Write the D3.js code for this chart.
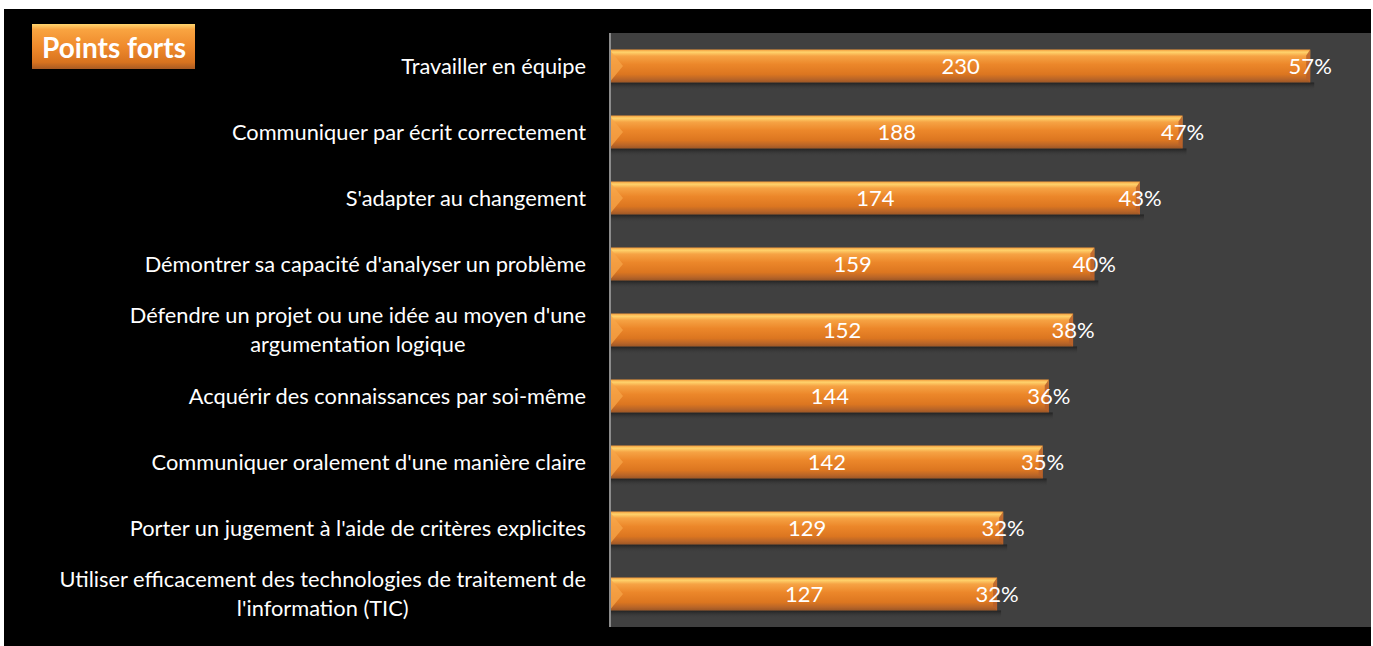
<!DOCTYPE html>
<html>
<head>
  <meta charset="utf-8">
  <title>Points forts</title>
  <script src="https://d3js.org/d3.v7.min.js"></script>
  <style>
    body { margin: 0; background: #fff; font-family: Lato, "Open Sans", sans-serif; }
    svg { display: block; }
  </style>
</head>
<body>
  <svg width="1373" height="646"></svg>
  <script>
    // Chart data
    var categories = [
      "Travailler en équipe",
      "Communiquer par écrit correctement",
      "S'adapter au changement",
      "Démontrer sa capacité d'analyser un problème",
      "Défendre un projet ou une idée au moyen d'une|argumentation logique",
      "Acquérir des connaissances par soi-même",
      "Communiquer oralement d'une manière claire ",
      "Porter un jugement à l'aide de critères explicites",
      "Utiliser efficacement des technologies de traitement de|l'information (TIC)"
    ];
    var counts = [230, 188, 174, 159, 152, 144, 142, 129, 127];
    var percents = [57, 47, 43, 40, 38, 36, 35, 32, 32];
    var title = "Points forts";

    var data = categories.map(function(c, i) {
      return {cat: c, n: counts[i], pct: percents[i]};
    });

    var svg = d3.select("svg");
    var plot = {left: 611, right: 1371, top: 33, bottom: 627};

    var x = d3.scaleLinear().domain([0, 250]).range([plot.left, plot.right]);
    var y = d3.scaleBand().domain(categories).range([plot.top, plot.bottom])
        .paddingInner(0.5).paddingOuter(0.25);

    // gradients
    var defs = svg.append("defs");
    var g1 = defs.append("linearGradient").attr("id", "barGrad")
        .attr("x1", 0).attr("y1", 0).attr("x2", 0).attr("y2", 1);
    [[0, "#f39a3a"], [0.08, "#ffd36c"], [0.2, "#f6a344"], [0.45, "#ec872a"],
     [0.75, "#dc7620"], [0.9, "#b96528"], [1, "#9c5625"]].forEach(function(s) {
      g1.append("stop").attr("offset", s[0]).attr("stop-color", s[1]);
    });
    var g2 = defs.append("linearGradient").attr("id", "shadowGrad")
        .attr("x1", 0).attr("y1", 0).attr("x2", 0).attr("y2", 1);
    g2.append("stop").attr("offset", 0).attr("stop-color", "#1e1e1e").attr("stop-opacity", 0.9);
    g2.append("stop").attr("offset", 1).attr("stop-color", "#404040").attr("stop-opacity", 0);

    // background
    svg.append("rect").attr("x", 4).attr("y", 9).attr("width", 1367).attr("height", 637)
        .attr("fill", "#000");
    svg.append("rect").attr("x", plot.left).attr("y", plot.top)
        .attr("width", plot.right - plot.left).attr("height", plot.bottom - plot.top)
        .attr("fill", "#404040");

    // bars
    var bars = svg.selectAll(".bar").data(data).enter().append("g").attr("class", "bar");
    var bh = y.bandwidth();

    bars.append("rect")
        .attr("x", x(0))
        .attr("y", function(d) { return y(d.cat) + bh; })
        .attr("width", function(d) { return x(d.n) - x(0) + 4; })
        .attr("height", 8)
        .attr("fill", "url(#shadowGrad)");

    bars.append("rect")
        .attr("x", x(0))
        .attr("y", function(d) { return y(d.cat); })
        .attr("width", function(d) { return x(d.n) - x(0); })
        .attr("height", bh)
        .attr("fill", "url(#barGrad)");

    // left bevel
    bars.append("path")
        .attr("d", function(d) {
          var y0 = y(d.cat), x0 = x(0);
          return "M" + x0 + "," + (y0 + 2) + "L" + (x0 + 12) + "," + (y0 + bh / 2) +
                 "L" + x0 + "," + (y0 + bh - 2) + "Z";
        })
        .attr("fill", "#f7a54a").attr("opacity", 0.75);

    // right bevel
    bars.append("path")
        .attr("d", function(d) {
          var y0 = y(d.cat), x1 = x(d.n);
          return "M" + x1 + "," + y0 + "L" + x1 + "," + (y0 + bh) +
                 "L" + (x1 - 4) + "," + (y0 + bh - 4) + "L" + (x1 - 4) + "," + (y0 + 6) + "Z";
        })
        .attr("fill", "#b9602a").attr("opacity", 0.85);

    // axis line
    svg.append("line").attr("x1", plot.left - 1).attr("x2", plot.left - 1)
        .attr("y1", plot.top).attr("y2", plot.bottom)
        .attr("stroke", "#8c8c8c").attr("stroke-width", 2);

    // value labels
    bars.append("text")
        .attr("x", function(d) { return (x(0) + x(d.n)) / 2; })
        .attr("y", function(d) { return y(d.cat) + bh / 2; })
        .attr("dy", "0.36em")
        .attr("text-anchor", "middle")
        .attr("fill", "#fff")
        .style("font-size", "22px")
        .text(function(d) { return d.n; });

    bars.append("text")
        .attr("x", function(d) { return x(d.n); })
        .attr("y", function(d) { return y(d.cat) + bh / 2; })
        .attr("dy", "0.36em")
        .attr("text-anchor", "middle")
        .attr("fill", "#fff")
        .style("font-size", "22px")
        .text(function(d) { return d.pct + "%"; });

    // category labels: lines centered on each other, block right-aligned
    var labelRight = 586, lineH = 29;
    data.forEach(function(d) {
      var lines = d.cat.split("|");
      var cy = y(d.cat) + bh / 2;
      var g = svg.append("g");
      var texts = lines.map(function(l, i) {
        return g.append("text")
            .attr("y", cy + (i - (lines.length - 1) / 2) * lineH)
            .attr("dy", "0.36em")
            .attr("text-anchor", "middle")
            .attr("fill", "#fff")
            .style("font-size", "21.8px")
            .text(l);
      });
      var widest = d3.max(texts, function(t) { return t.node().getComputedTextLength(); });
      texts.forEach(function(t) { t.attr("x", labelRight - widest / 2); });
    });

    // title box
    var tg = defs.append("linearGradient").attr("id", "titleGrad")
        .attr("x1", 0).attr("y1", 0).attr("x2", 0).attr("y2", 1);
    [[0, "#ffd56e"], [0.12, "#f9a441"], [0.5, "#ef8a2c"], [0.85, "#d8731f"], [1, "#a85a23"]]
      .forEach(function(s) { tg.append("stop").attr("offset", s[0]).attr("stop-color", s[1]); });
    svg.append("rect").attr("x", 32).attr("y", 24).attr("width", 163).attr("height", 45)
        .attr("fill", "url(#titleGrad)");
    svg.append("text").attr("x", 114).attr("y", 48).attr("dy", "0.36em")
        .attr("text-anchor", "middle").attr("fill", "#fff")
        .style("font-size", "28px").style("font-weight", "bold")
        .text(title);
  </script>
</body>
</html>
